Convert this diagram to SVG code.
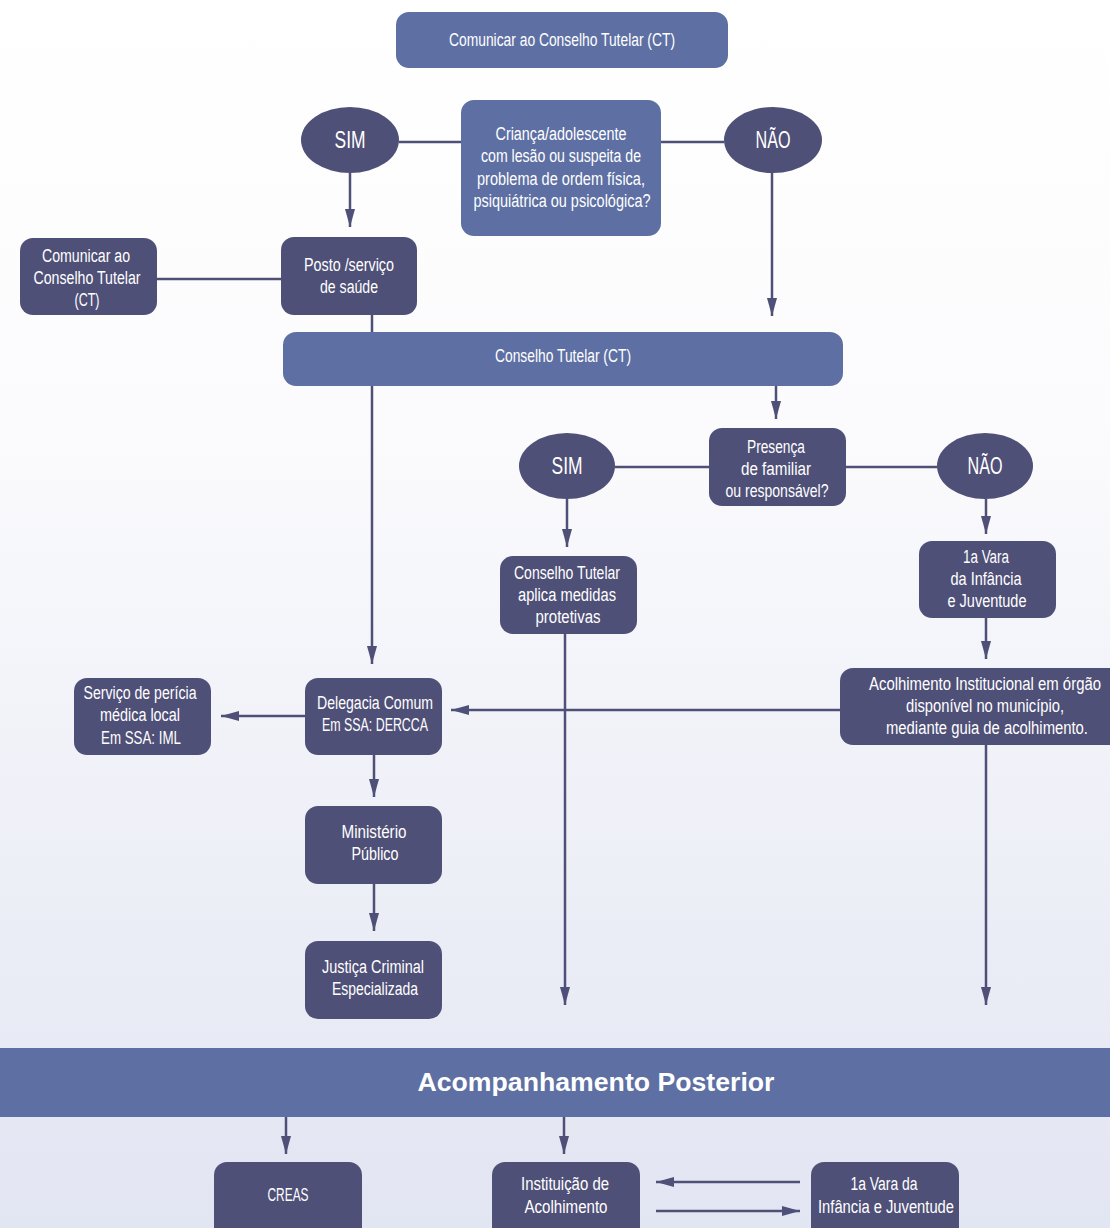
<svg xmlns="http://www.w3.org/2000/svg" width="1110" height="1228" viewBox="0 0 1110 1228">
<defs>
<linearGradient id="bg" x1="0" y1="0" x2="0" y2="1">
<stop offset="0" stop-color="#ffffff"/>
<stop offset="0.35" stop-color="#fbfbfd"/>
<stop offset="1" stop-color="#e2e5f2"/>
</linearGradient>
<marker id="ah" viewBox="0 0 18 10" refX="18" refY="5" markerWidth="18" markerHeight="10" markerUnits="userSpaceOnUse" orient="auto">
<path d="M0,0 L18,5 L0,10 Z" fill="#4f5077"/>
</marker>
<style>
.d{fill:#4f5077}
.l{fill:#5e70a3}
.t{font-family:"Liberation Sans",Arial,sans-serif;font-size:18px;fill:#ffffff;text-anchor:middle}
.e{font-size:23px}
.c{fill:none;stroke:#4f5077;stroke-width:2.5}
.a{marker-end:url(#ah)}
</style>
</defs>
<rect width="1110" height="1228" fill="url(#bg)"/>
<g id="connectors">
<line class="c" x1="399" y1="142" x2="461" y2="142"/>
<line class="c" x1="661" y1="142" x2="724" y2="142"/>
<line class="c a" x1="350" y1="173" x2="350" y2="227"/>
<line class="c a" x1="772" y1="173" x2="772" y2="316"/>
<line class="c" x1="157" y1="279" x2="281" y2="279"/>
<line class="c" x1="372" y1="315" x2="372" y2="332"/>
<line class="c a" x1="372" y1="386" x2="372" y2="664"/>
<line class="c a" x1="776" y1="386" x2="776" y2="419"/>
<line class="c" x1="615" y1="467" x2="709" y2="467"/>
<line class="c" x1="846" y1="467" x2="937" y2="467"/>
<line class="c a" x1="567" y1="499" x2="567" y2="547"/>
<line class="c a" x1="986" y1="499" x2="986" y2="534"/>
<line class="c a" x1="986" y1="618" x2="986" y2="659"/>
<line class="c a" x1="840" y1="710" x2="451" y2="710"/>
<line class="c a" x1="305" y1="716" x2="221" y2="716"/>
<line class="c a" x1="374" y1="755" x2="374" y2="797"/>
<line class="c a" x1="374" y1="884" x2="374" y2="931"/>
<line class="c a" x1="565" y1="634" x2="565" y2="1005"/>
<line class="c a" x1="986" y1="745" x2="986" y2="1005"/>
<line class="c a" x1="286" y1="1112" x2="286" y2="1154"/>
<line class="c a" x1="564" y1="1112" x2="564" y2="1154"/>
<line class="c a" x1="800" y1="1182" x2="656" y2="1182"/>
<line class="c a" x1="656" y1="1211" x2="800" y2="1211"/>
</g>
<g id="n-top"><rect class="l" x="396" y="12" width="332" height="56" rx="13"/><text class="t" x="562" y="46" textLength="226" lengthAdjust="spacingAndGlyphs">Comunicar ao Conselho Tutelar (CT)</text></g>
<g id="n-sim1"><ellipse class="d" cx="350" cy="140" rx="49" ry="33"/><text class="t e" x="350" y="148" textLength="31" lengthAdjust="spacingAndGlyphs">SIM</text></g>
<g id="n-q1"><rect class="l" x="461" y="100" width="200" height="136" rx="13"/>
<text class="t" x="561" y="140" textLength="131" lengthAdjust="spacingAndGlyphs">Criança/adolescente</text>
<text class="t" x="561" y="162" textLength="160" lengthAdjust="spacingAndGlyphs">com lesão ou suspeita de</text>
<text class="t" x="561" y="185" textLength="168" lengthAdjust="spacingAndGlyphs">problema de ordem física,</text>
<text class="t" x="562" y="207" textLength="177" lengthAdjust="spacingAndGlyphs">psiquiátrica ou psicológica?</text></g>
<g id="n-nao1"><ellipse class="d" cx="773" cy="140" rx="49" ry="33"/><text class="t e" x="773" y="148" textLength="35" lengthAdjust="spacingAndGlyphs">NÃO</text></g>
<g id="n-posto"><rect class="d" x="281" y="237" width="136" height="78" rx="13"/>
<text class="t" x="349" y="271" textLength="90" lengthAdjust="spacingAndGlyphs">Posto /serviço</text>
<text class="t" x="349" y="293" textLength="58" lengthAdjust="spacingAndGlyphs">de saúde</text></g>
<g id="n-com2"><rect class="d" x="20" y="238" width="137" height="77" rx="13"/>
<text class="t" x="86" y="262" textLength="88" lengthAdjust="spacingAndGlyphs">Comunicar ao</text>
<text class="t" x="87" y="284" textLength="107" lengthAdjust="spacingAndGlyphs">Conselho Tutelar</text>
<text class="t" x="87" y="306" textLength="25" lengthAdjust="spacingAndGlyphs">(CT)</text></g>
<g id="n-ct"><rect class="l" x="283" y="332" width="560" height="54" rx="13"/><text class="t" x="563" y="362" textLength="136" lengthAdjust="spacingAndGlyphs">Conselho Tutelar (CT)</text></g>
<g id="n-pres"><rect class="d" x="709" y="428" width="137" height="78" rx="13"/>
<text class="t" x="776" y="453" textLength="58" lengthAdjust="spacingAndGlyphs">Presença</text>
<text class="t" x="776" y="475" textLength="70" lengthAdjust="spacingAndGlyphs">de familiar</text>
<text class="t" x="777" y="497" textLength="103" lengthAdjust="spacingAndGlyphs">ou responsável?</text></g>
<g id="n-sim2"><ellipse class="d" cx="567" cy="466" rx="48" ry="33"/><text class="t e" x="567" y="474" textLength="31" lengthAdjust="spacingAndGlyphs">SIM</text></g>
<g id="n-nao2"><ellipse class="d" cx="985" cy="466" rx="48" ry="33"/><text class="t e" x="985" y="474" textLength="35" lengthAdjust="spacingAndGlyphs">NÃO</text></g>
<g id="n-ctap"><rect class="d" x="500" y="556" width="137" height="78" rx="13"/>
<text class="t" x="567" y="579" textLength="106" lengthAdjust="spacingAndGlyphs">Conselho Tutelar</text>
<text class="t" x="567" y="601" textLength="98" lengthAdjust="spacingAndGlyphs">aplica medidas</text>
<text class="t" x="568" y="623" textLength="65" lengthAdjust="spacingAndGlyphs">protetivas</text></g>
<g id="n-vara1"><rect class="d" x="919" y="541" width="137" height="77" rx="13"/>
<text class="t" x="986" y="563" textLength="46" lengthAdjust="spacingAndGlyphs">1a Vara</text>
<text class="t" x="986" y="585" textLength="71" lengthAdjust="spacingAndGlyphs">da Infância</text>
<text class="t" x="987" y="607" textLength="79" lengthAdjust="spacingAndGlyphs">e Juventude</text></g>
<g id="n-acol"><path class="d" d="M853,668 H1110 V745 H853 A13,13 0 0 1 840,732 V681 A13,13 0 0 1 853,668 Z"/>
<text class="t" x="985" y="690" textLength="232" lengthAdjust="spacingAndGlyphs">Acolhimento Institucional em órgão</text>
<text class="t" x="985" y="712" textLength="158" lengthAdjust="spacingAndGlyphs">disponível no município,</text>
<text class="t" x="987" y="734" textLength="202" lengthAdjust="spacingAndGlyphs">mediante guia de acolhimento.</text></g>
<g id="n-deleg"><rect class="d" x="305" y="678" width="137" height="77" rx="13"/>
<text class="t" x="375" y="709" textLength="116" lengthAdjust="spacingAndGlyphs">Delegacia Comum</text>
<text class="t" x="375" y="731" textLength="106" lengthAdjust="spacingAndGlyphs">Em SSA: DERCCA</text></g>
<g id="n-peri"><rect class="d" x="74" y="678" width="137" height="77" rx="13"/>
<text class="t" x="140" y="699" textLength="113" lengthAdjust="spacingAndGlyphs">Serviço de perícia</text>
<text class="t" x="140" y="721" textLength="80" lengthAdjust="spacingAndGlyphs">médica local</text>
<text class="t" x="141" y="744" textLength="80" lengthAdjust="spacingAndGlyphs">Em SSA: IML</text></g>
<g id="n-mp"><rect class="d" x="305" y="806" width="137" height="78" rx="13"/>
<text class="t" x="374" y="838" textLength="65" lengthAdjust="spacingAndGlyphs">Ministério</text>
<text class="t" x="375" y="860" textLength="47" lengthAdjust="spacingAndGlyphs">Público</text></g>
<g id="n-jc"><rect class="d" x="305" y="941" width="137" height="78" rx="13"/>
<text class="t" x="373" y="973" textLength="102" lengthAdjust="spacingAndGlyphs">Justiça Criminal</text>
<text class="t" x="375" y="995" textLength="86" lengthAdjust="spacingAndGlyphs">Especializada</text></g>
<g id="n-banner"><rect class="l" x="0" y="1048" width="1110" height="69"/><text x="596" y="1091" text-anchor="middle" font-family="'Liberation Sans',Arial,sans-serif" font-weight="bold" font-size="26" fill="#ffffff" textLength="357" lengthAdjust="spacingAndGlyphs">Acompanhamento Posterior</text></g>
<g id="n-creas"><rect class="d" x="214" y="1162" width="148" height="90" rx="13"/><text class="t" x="288" y="1201" textLength="41" lengthAdjust="spacingAndGlyphs">CREAS</text></g>
<g id="n-inst"><rect class="d" x="492" y="1162" width="148" height="90" rx="13"/>
<text class="t" x="565" y="1190" textLength="88" lengthAdjust="spacingAndGlyphs">Instituição de</text>
<text class="t" x="566" y="1213" textLength="83" lengthAdjust="spacingAndGlyphs">Acolhimento</text></g>
<g id="n-vara2"><rect class="d" x="811" y="1162" width="148" height="90" rx="13"/>
<text class="t" x="884" y="1190" textLength="67" lengthAdjust="spacingAndGlyphs">1a Vara da</text>
<text class="t" x="886" y="1213" textLength="136" lengthAdjust="spacingAndGlyphs">Infância e Juventude</text></g>
</svg>
